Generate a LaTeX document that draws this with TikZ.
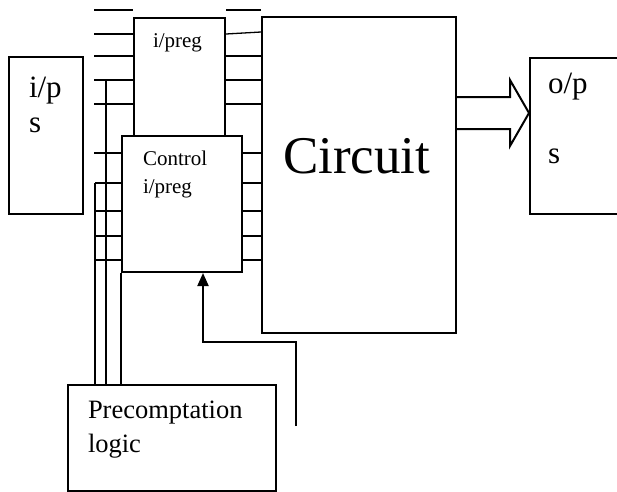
\documentclass[tikz,border=0pt]{standalone}
\usepackage{fontspec}
\setmainfont{Liberation Serif}
\usetikzlibrary{arrows.meta}

\begin{document}
\begin{tikzpicture}[
    x=1pt, y=-1pt,
    box/.style={rectangle, draw, line width=2pt, inner sep=0pt, anchor=north west},
    txt/.style={anchor=base west, inner sep=0pt},
    big/.style={font=\fontsize{53}{53}\selectfont},
    mid/.style={font=\fontsize{31}{31}\selectfont},
    low/.style={font=\fontsize{26.5}{26.5}\selectfont},
    small/.style={font=\fontsize{21}{21}\selectfont},
  every path/.style={line width=2pt},
  ]
\tikzset{>={Triangle[length=13pt, width=11pt]}}

  \useasboundingbox (0,0) rectangle (617,491);

  \node[box, minimum width=74pt,  minimum height=157pt] (inp)   at (8,56)    {};
  \node[box, minimum width=91pt,  minimum height=118pt] (ipreg) at (133,17)  {};
  \node[box, minimum width=120pt, minimum height=136pt] (ctrl)  at (121,135) {};
  \node[box, minimum width=194pt, minimum height=316pt] (circ)  at (261,16)  {};
  \node[box, minimum width=120pt, minimum height=156pt] (outp)  at (529,57)  {};
  \node[box, minimum width=208pt, minimum height=106pt] (pre)   at (67,384)  {};

  \node[txt, mid]   (inptxt)   at (28,97)   {i/p};
  \node[txt, mid]   (inptxtb)  at (28,132)  {s};
  \node[txt, mid]   (outptxt)  at (547,93)  {o/p};
  \node[txt, mid]   (outptxtb) at (547,163) {s};
  \node[txt, small] (regtxt)   at (152,47)  {i/preg};
  \node[txt, small] (ctrltxt)  at (142,165) {Control};
  \node[txt, small] (ctrltxtb) at (142,193) {i/preg};
  \node[txt, big]   (circtxt)  at (282,173) {Circuit};
  \node[txt, low]   (pretxt)   at (87,418)  {Precomptation};
  \node[txt, low]   (pretxtb)  at (87,452)  {logic};

  % lines into and out of the registers
  \draw (94,10) -- (94,10 -| ipreg.west);
  \draw (ipreg.east |- 0,10) -- (circ.west |- 0,10);
  \foreach \y in {34,56,80,104}
    \draw (94,\y) -- (94,\y -| ipreg.west);
  \foreach \y in {56,80,104}
    \draw (ipreg.east |- 0,\y) -- (circ.west |- 0,\y);
  \draw[line width=1.3pt] (ipreg.east |- 0,34) -- (circ.west |- 0,32);

  \draw (94,153) -- (94,153 -| ctrl.west);
  \foreach \y in {183,211,236,260}
    \draw (95,\y) -- (95,\y -| ctrl.west);
  \foreach \y in {153,183,211,236,260}
    \draw (ctrl.east |- 0,\y) -- (circ.west |- 0,\y);

  % from the precomputation logic
  \draw (95,183) -- (pre.north -| 95,0);
  \draw (106,80) -- (pre.north -| 106,0);
  \draw (ctrl.south west) -- (pre.north -| ctrl.west);

  \coordinate (fb) at (296,426);
  \draw[->] (fb) |- (203,342) -- (ctrl.south -| 203,0);

  % output arrow
  \draw (circ.east |- 0,97) -- (510,97) -- (510,80) -- (outp.west |- 0,113)
        -- (510,146) -- (510,129) -- (circ.east |- 0,129);

\end{tikzpicture}
\end{document}
